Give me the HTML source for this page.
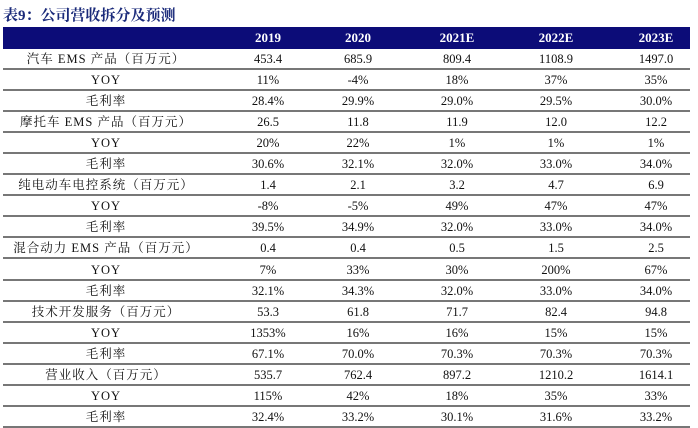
<!DOCTYPE html>
<html><head><meta charset="utf-8"><style>
body{margin:0;width:698px;height:428px;background:#fff;position:relative;overflow:hidden;font-family:"Liberation Serif","Noto Serif CJK SC",serif;color:#111}
.t{position:absolute;left:3px;top:4px;font-size:15px;font-weight:bold;color:#1a2a7a;font-family:"Liberation Serif","Noto Serif CJK SC",serif}
.h{position:absolute;left:3px;top:27px;width:687px;height:22px;background:#0c0c78}
.r{position:absolute;left:3px;width:687px;height:21px;border-bottom:2px solid #777;box-sizing:border-box}
.c{position:absolute;top:0;height:21px;line-height:21px;font-size:12.5px;text-align:center;transform:translateX(-50%);white-space:nowrap}
.l{letter-spacing:1px}
.h .c{color:#fff;font-weight:bold;height:22px;line-height:22px;font-size:13px}
</style></head><body>
<div class="t">表9：公司营收拆分及预测</div>
<div class="h"><span class="c" style="left:265px">2019</span><span class="c" style="left:355px">2020</span><span class="c" style="left:454px">2021E</span><span class="c" style="left:553px">2022E</span><span class="c" style="left:653px">2023E</span></div>
<div id="rows"></div>
<script>
var d=[["汽车 EMS 产品（百万元）","453.4","685.9","809.4","1108.9","1497.0"],
["YOY","11%","-4%","18%","37%","35%"],
["毛利率","28.4%","29.9%","29.0%","29.5%","30.0%"],
["摩托车 EMS 产品（百万元）","26.5","11.8","11.9","12.0","12.2"],
["YOY","20%","22%","1%","1%","1%"],
["毛利率","30.6%","32.1%","32.0%","33.0%","34.0%"],
["纯电动车电控系统（百万元）","1.4","2.1","3.2","4.7","6.9"],
["YOY","-8%","-5%","49%","47%","47%"],
["毛利率","39.5%","34.9%","32.0%","33.0%","34.0%"],
["混合动力 EMS 产品（百万元）","0.4","0.4","0.5","1.5","2.5"],
["YOY","7%","33%","30%","200%","67%"],
["毛利率","32.1%","34.3%","32.0%","33.0%","34.0%"],
["技术开发服务（百万元）","53.3","61.8","71.7","82.4","94.8"],
["YOY","1353%","16%","16%","15%","15%"],
["毛利率","67.1%","70.0%","70.3%","70.3%","70.3%"],
["营业收入（百万元）","535.7","762.4","897.2","1210.2","1614.1"],
["YOY","115%","42%","18%","35%","33%"],
["毛利率","32.4%","33.2%","30.1%","31.6%","33.2%"]];
var xs=[103,265,355,454,553,653],h="";
d.forEach(function(r,i){h+='<div class="r" style="top:'+(49+i*21.05)+'px">';r.forEach(function(v,j){h+='<span class="c'+(j==0?' l':'')+'" style="left:'+xs[j]+'px">'+v+'</span>'});h+='</div>'});
document.getElementById('rows').innerHTML=h;
</script>
</body></html>
